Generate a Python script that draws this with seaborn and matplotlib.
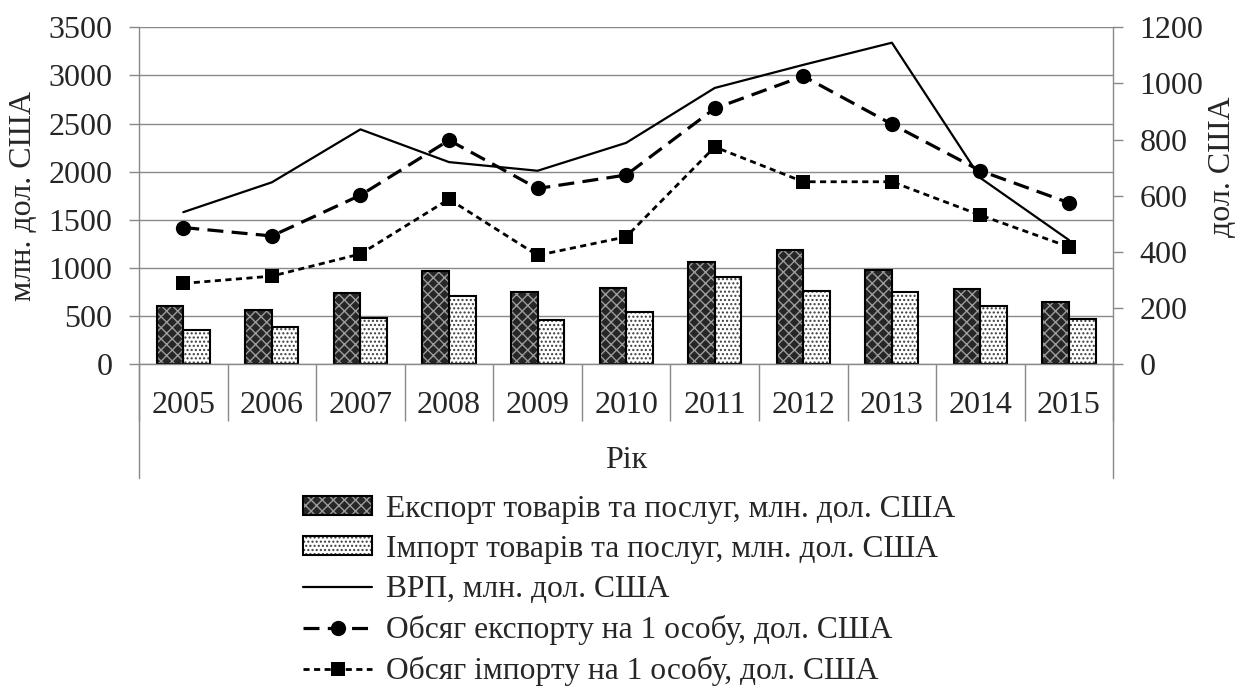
import numpy as np
import pandas as pd
import matplotlib
matplotlib.use("Agg")
import matplotlib.pyplot as plt
from matplotlib.patches import Patch, Rectangle
from matplotlib.lines import Line2D
from matplotlib.legend_handler import HandlerTuple
import seaborn as sns

# Дані
years = ["2005", "2006", "2007", "2008", "2009", "2010", "2011", "2012", "2013", "2014", "2015"]
export_total = [610, 565, 740, 964, 750, 794, 1065, 1190, 983, 785, 645]
import_total = [360, 388, 482, 709, 457, 540, 905, 757, 750, 603, 467]
grp = [1580, 1890, 2440, 2100, 2010, 2300, 2870, 3110, 3340, 1935, 1290]
export_pc = [487, 457, 602, 798, 626, 674, 911, 1026, 855, 689, 575]
import_pc = [288, 314, 393, 588, 388, 454, 774, 650, 650, 531, 418]

lab_exp = "Експорт товарів та послуг, млн. дол. США"
lab_imp = "Імпорт товарів та послуг, млн. дол. США"
lab_grp = "ВРП, млн. дол. США"
lab_exp_pc = "Обсяг експорту на 1 особу, дол. США"
lab_imp_pc = "Обсяг імпорту на 1 особу, дол. США"

left_ticks = [0, 500, 1000, 1500, 2000, 2500, 3000, 3500]
right_ticks = [0, 200, 400, 600, 800, 1000, 1200]

sns.set_style("white")
plt.rcParams["font.family"] = ["Liberation Serif", "DejaVu Serif"]
plt.rcParams["font.size"] = 23
plt.rcParams["hatch.linewidth"] = 1.0

GRAY = "#898989"
W, H = 1248, 693
EXP_FACE, EXP_HATCH = "#262626", "#9c9c9c"
IMP_FACE, IMP_HATCH = "white", "#3c3c3c"

df = pd.DataFrame({
    "year": years * 2,
    "value": export_total + import_total,
    "series": [lab_exp] * len(years) + [lab_imp] * len(years),
})

fig = plt.figure(figsize=(W / 100, H / 100), dpi=100)
ax = fig.add_axes([139 / W, 1 - 364.3 / H, (1113.3 - 139) / W, 337 / H])

sns.barplot(data=df, x="year", y="value", hue="series", palette=[EXP_FACE, IMP_FACE],
            saturation=1, width=0.6, legend=False, ax=ax)

# штрихування стовпців + чорний контур
styles = [("xxx", EXP_HATCH), ("....", IMP_HATCH)]
for container, (h, hc) in zip(ax.containers, styles):
    for bar in container:
        bar.set_hatch(h)
        bar.set_edgecolor(hc)
        bar.set_linewidth(0)
        ax.add_patch(Rectangle(bar.get_xy(), bar.get_width(), bar.get_height(), fill=False,
                               edgecolor="black", linewidth=1.5, zorder=bar.get_zorder() + 0.1))

x = np.arange(len(years))
sns.lineplot(x=x, y=grp, ax=ax, color="black", linewidth=1.6)

ax2 = ax.twinx()
sns.lineplot(x=x, y=export_pc, ax=ax2, color="black", linewidth=2.3, linestyle=(0, (5, 2.6)),
             marker="o", markersize=11, markeredgecolor="black", markeredgewidth=0)
sns.lineplot(x=x, y=import_pc, ax=ax2, color="black", linewidth=2.0, linestyle=(0, (2.2, 1.6)),
             marker="s", markersize=10, markeredgecolor="black", markeredgewidth=0)

ax.set_xlim(-0.5, len(years) - 0.5)
ax.set_ylim(0, 3500)
ax.set_yticks(left_ticks)
ax2.set_ylim(0, 1200)
ax2.set_yticks(right_ticks)
ax.set_xlabel("")
ax.set_ylabel("")
ax2.set_ylabel("")

ax.set_axisbelow(True)
ax.yaxis.grid(True, color=GRAY, linewidth=1.0)
ax.xaxis.grid(False)

ax.tick_params(axis="y", direction="out", length=7, width=1, color=GRAY, pad=12, left=True)
ax.tick_params(axis="x", which="major", length=0, pad=19)
ax.set_xticks(np.arange(-0.5, len(years), 1), minor=True)
ax.tick_params(axis="x", which="minor", direction="out", length=41, width=1, color=GRAY, bottom=True)
ax2.tick_params(axis="y", direction="out", length=7, width=1, color=GRAY, pad=12, right=True)

for a in (ax, ax2):
    for s in a.spines.values():
        s.set_color(GRAY)
        s.set_linewidth(1.0)
    a.spines["top"].set_visible(False)
ax.spines["right"].set_visible(False)
ax2.spines["left"].set_visible(False)
ax2.spines["bottom"].set_visible(False)

# зовнішні межі багаторівневої осі категорій
depth = (478 - 364.3) / 337
for xb in (0, 1):
    ax.plot([xb, xb], [0, -depth], transform=ax.transAxes, color=GRAY, lw=1.0, clip_on=False)

fig.text(24 / W, 1 - 196 / H, "млн. дол. США", rotation=90, ha="center", va="center")
fig.text(1223 / W, 1 - 167 / H, "дол. США", rotation=90, ha="center", va="center")
fig.text(626 / W, 1 - 461 / H, "Рік", ha="center", va="center")

handles = [
    (Patch(facecolor=EXP_FACE, edgecolor=EXP_HATCH, hatch="xxx", linewidth=0),
     Patch(facecolor="none", edgecolor="black", linewidth=1.5)),
    (Patch(facecolor=IMP_FACE, edgecolor=IMP_HATCH, hatch="....", linewidth=0),
     Patch(facecolor="none", edgecolor="black", linewidth=1.5)),
    Line2D([], [], color="black", linewidth=1.6),
    Line2D([], [], color="black", linewidth=2.3, linestyle=(0, (5, 2.6)), marker="o",
           markersize=11, markeredgewidth=0),
    Line2D([], [], color="black", linewidth=2.0, linestyle=(0, (2.2, 1.6)), marker="s",
           markersize=10, markeredgewidth=0),
]
fig.legend(handles, [lab_exp, lab_imp, lab_grp, lab_exp_pc, lab_imp_pc],
           loc="upper left", bbox_to_anchor=(303 / W, 1 - 495 / H), frameon=False,
           fontsize=22.7, borderpad=0, borderaxespad=0, handlelength=2.2, handleheight=0.55,
           handletextpad=0.42, labelspacing=0.35,
           handler_map={tuple: HandlerTuple(ndivide=1, pad=0)})

fig.savefig("out.png", dpi=100)
